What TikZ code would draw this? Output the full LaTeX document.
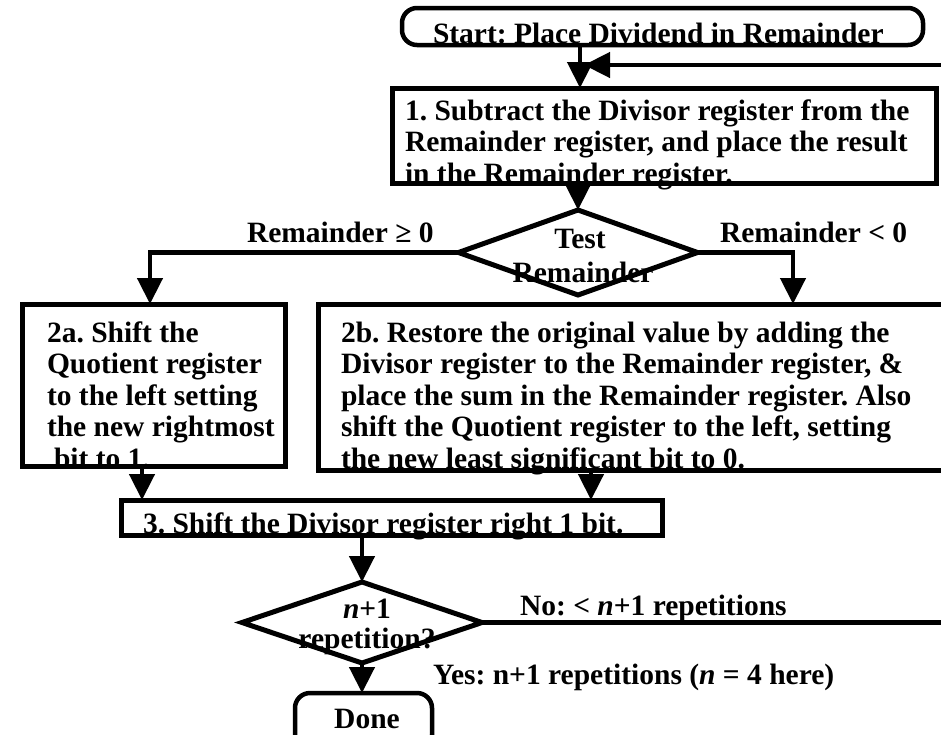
\documentclass[tikz,border=0pt]{standalone}
\usepackage{fontspec}
\setmainfont{Liberation Serif}
\usetikzlibrary{arrows.meta,shapes.geometric}
\frenchspacing

\begin{document}
\begin{tikzpicture}[x=1pt,y=-1pt,
  every node/.style={inner sep=0pt,outer sep=0pt},
  txt/.style={font=\fontsize{29.5}{31.5}\selectfont\bfseries,anchor=base west},
  ctxt/.style={font=\fontsize{29.5}{31.5}\selectfont\bfseries,anchor=base},
  stepbox/.style={draw,line width=5pt,rectangle},
  termbox/.style={draw,line width=4.5pt,rectangle,rounded corners=15pt},
  testbox/.style={draw,line width=5pt,diamond},
  flow/.style={line width=4.5pt,-{Triangle[width=25pt,length=26pt]}}
]
\useasboundingbox (0,0) rectangle (941,734);
\clip (0,0) rectangle (941,734);

% shapes
\node[termbox,minimum width=521pt,minimum height=37pt] (start) at (662.5,26.5) {};
\node[stepbox,minimum width=544pt,minimum height=95pt] (b1) at (664,135.5) {};
\node[testbox,minimum width=239pt,minimum height=85pt] (d1) at (578,252.5) {};
\node[stepbox,minimum width=263pt,minimum height=162pt] (b2a) at (153.5,385) {};
\node[stepbox,minimum width=652pt,minimum height=166pt] (b2b) at (644,387) {};
\node[stepbox,minimum width=541pt,minimum height=35pt] (b3) at (391.5,517.5) {};
\node[testbox,minimum width=240pt,minimum height=81pt] (d2) at (362,622.5) {};
\node[termbox,minimum width=137pt,minimum height=57pt] (done) at (363.5,721.5) {};

% junction of the start arrow and the loop back
\coordinate (j1) at (580,65);
\coordinate (loopR) at (965,65);

% texts
\node[txt] (tstart) at (433,43) {Start: Place Dividend in Remainder};
\node[txt] (tb1) at (405,120) {\begin{tabular}[t]{@{}l@{}}1. Subtract the Divisor register from the\\Remainder register, and place the result\\in the Remainder register.\end{tabular}};
\node[ctxt] (td1a) at (580,248) {Test};
\node[ctxt] (td1b) at (583,282) {Remainder};
\node[txt] (tge) at (247,242) {Remainder ≥ 0};
\node[txt] (tlt) at (720,242) {Remainder < 0};
\node[txt] (tb2a) at (47,342) {\begin{tabular}[t]{@{}l@{}}2a. Shift the\\Quotient register\\to the left setting\\the new rightmost\\\hspace{7pt}bit to 1.\end{tabular}};
\node[txt] (tb2b) at (341,342) {\begin{tabular}[t]{@{}l@{}}2b. Restore the original value by adding the\\Divisor register to the Remainder register, \&\\place the sum in the Remainder register. Also\\shift the Quotient register to the left, setting\\the new least significant bit to 0.\end{tabular}};
\node[txt] (tb3) at (143,533) {3. Shift the Divisor register right 1 bit.};
\node[ctxt] (td2a) at (367,618) {\textit{n}+1};
\node[ctxt] (td2b) at (367,648) {repetition?};
\node[txt] (tno) at (520,615) {No: < \textit{n}+1 repetitions};
\node[txt] (tyes) at (433,684) {Yes: n+1 repetitions (\textit{n} = 4 here)};
\node[ctxt] (tdone) at (367,728) {Done};

% connectors
\draw[flow] (start.south -| j1) -- (b1.north -| j1);
\draw[flow] (d2.east) -- (d2.east -| loopR) -- (loopR) -- ([xshift=4pt]j1);
\draw[flow] (b1.south -| d1.north) -- (d1.north);
\draw[flow] (d1.west) -| ([xshift=-3.5pt]b2a.north);
\draw[flow] (d1.east) -| ([xshift=149pt]b2b.north);
\draw[flow] ([xshift=-11.5pt]b2a.south) -- ([xshift=-11.5pt]b2a.south |- b3.north);
\draw[flow] ([xshift=-53pt]b2b.south) -- ([xshift=-53pt]b2b.south |- b3.north);
\draw[flow] (b3.south -| d2.north) -- (d2.north);
\draw[flow] (d2.south) -- (d2.south |- done.north);
\end{tikzpicture}
\end{document}
